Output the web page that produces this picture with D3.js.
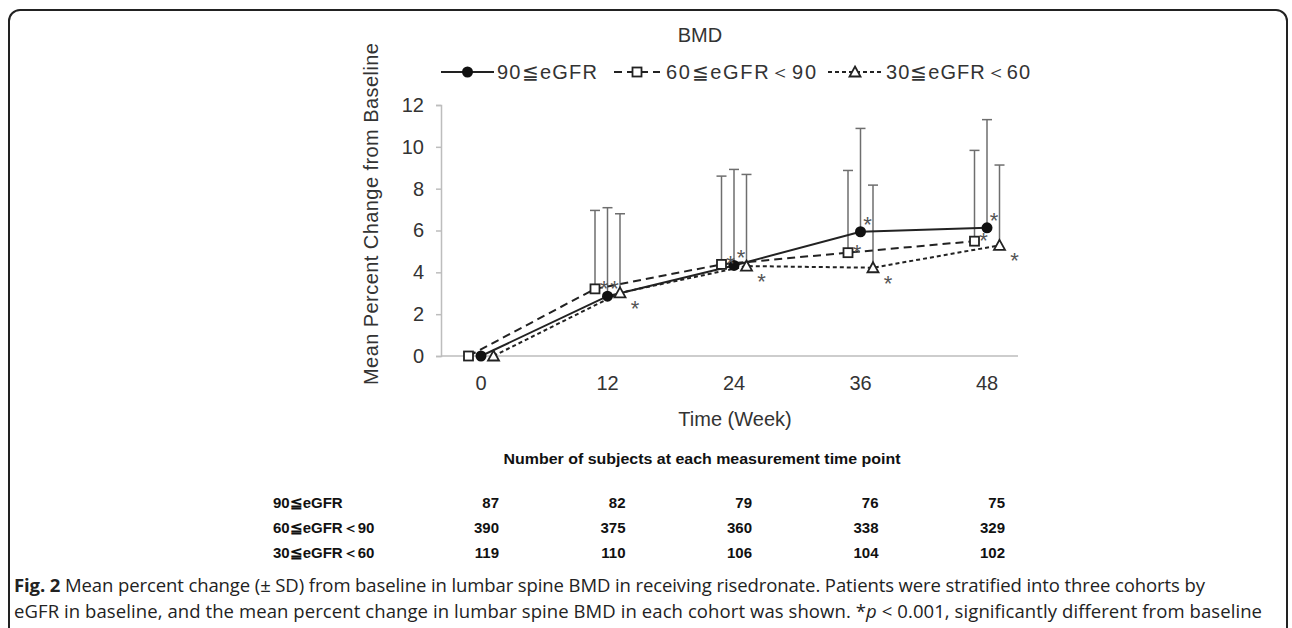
<!DOCTYPE html>
<html>
<head>
<meta charset="utf-8">
<script src="https://cdn.jsdelivr.net/npm/d3@7"></script>
<style>
  body { margin: 0; background: #fff; }
  text { font-family: "Liberation Sans", Arial, sans-serif; }
</style>
</head>
<body>
<script>
const width = 1292;
const height = 628;

const weeks = [0, 12, 24, 36, 48];
const groups = ['90≦eGFR', '60≦eGFR＜90', '30≦eGFR＜60'];
const mean90 = [0, 2.86, 4.33, 5.94, 6.13];
const sd90 = [0, 4.23, 4.59, 4.94, 5.17];
const mean60 = [0, 3.21, 4.38, 4.94, 5.49];
const sd60 = [0, 3.75, 4.22, 3.93, 4.34];
const mean30 = [0, 3.02, 4.30, 4.22, 5.29];
const sd30 = [0, 3.78, 4.38, 3.95, 3.84];
const signif = [false, true, true, true, true];
const yTicks = [0, 2, 4, 6, 8, 10, 12];
const count90 = [87, 82, 79, 76, 75];
const count60 = [390, 375, 360, 338, 329];
const count30 = [119, 110, 106, 104, 102];

const series = [
  { name: groups[0], mean: mean90, sd: sd90, n: count90, marker: 'circle', dash: null, star: [7, -13] },
  { name: groups[1], mean: mean60, sd: sd60, n: count60, marker: 'square', dash: '8,5', star: [9, -6] },
  { name: groups[2], mean: mean30, sd: sd30, n: count30, marker: 'triangle', dash: '4,3', star: [15, 10] },
];

const svg = d3.select('body')
  .append('svg')
  .attr('width', width)
  .attr('height', height);

// frame
svg.append('rect')
  .attr('x', 9).attr('y', 10)
  .attr('width', 1278).attr('height', 660)
  .attr('rx', 11)
  .attr('fill', 'none')
  .attr('stroke', '#222')
  .attr('stroke-width', 2);

const x = d3.scaleLinear().domain([0, 48]).range([481, 987]);
const y = d3.scaleLinear().domain([0, 12]).range([356, 105]);
const shift = d3.scalePoint().domain(['square', 'circle', 'triangle']).range([-12.5, 12.5]);

// title
svg.append('text')
  .attr('x', 700).attr('y', 42)
  .attr('text-anchor', 'middle')
  .attr('font-size', 20)
  .attr('fill', '#333')
  .text('BMD');

// y axis
const yAxis = svg.append('g')
  .attr('transform', 'translate(441,0)')
  .call(d3.axisLeft(y).tickValues(yTicks).tickSize(5).tickPadding(12));
yAxis.select('.domain').attr('stroke', '#bdbdbd').attr('stroke-width', 1.5);
yAxis.selectAll('.tick line').attr('stroke', '#bdbdbd').attr('stroke-width', 1.5);
yAxis.selectAll('.tick text')
  .attr('font-size', 20)
  .attr('fill', '#333')
  .attr('font-family', '"Liberation Sans", Arial, sans-serif');

svg.append('text')
  .attr('transform', 'translate(378,214) rotate(-90)')
  .attr('text-anchor', 'middle')
  .attr('font-size', 20)
  .attr('fill', '#333')
  .attr('textLength', 342)
  .attr('lengthAdjust', 'spacing')
  .text('Mean Percent Change from Baseline');

// x axis
svg.append('line')
  .attr('x1', 441).attr('x2', 1018)
  .attr('y1', y(0)).attr('y2', y(0))
  .attr('stroke', '#bdbdbd').attr('stroke-width', 1.5);
svg.selectAll('.xlab')
  .data(weeks)
  .join('text')
    .attr('class', 'xlab')
    .attr('x', d => x(d))
    .attr('y', 390)
    .attr('text-anchor', 'middle')
    .attr('font-size', 20)
    .attr('fill', '#333')
    .text(d => d);
svg.append('text')
  .attr('x', 735).attr('y', 426)
  .attr('text-anchor', 'middle')
  .attr('font-size', 20)
  .attr('fill', '#333')
  .text('Time (Week)');

function drawMarker(g, type, cx, cy) {
  if (type === 'circle') {
    g.append('circle').attr('cx', cx).attr('cy', cy).attr('r', 5.5).attr('fill', '#111');
  } else if (type === 'square') {
    g.append('rect').attr('x', cx - 4.5).attr('y', cy - 4.5).attr('width', 9).attr('height', 9)
      .attr('fill', '#fff').attr('stroke', '#222').attr('stroke-width', 1.8);
  } else {
    g.append('path')
      .attr('d', `M${cx},${cy - 5.5}L${cx + 5.5},${cy + 4.5}L${cx - 5.5},${cy + 4.5}Z`)
      .attr('fill', '#fff').attr('stroke', '#222').attr('stroke-width', 1.8);
  }
}

const plot = svg.append('g');

// error bars (upper SD only)
series.forEach(s => {
  const pts = weeks.map((w, i) => ({ w, m: s.mean[i], sd: s.sd[i] })).filter(d => d.sd > 0);
  const gx = d => x(d.w) + shift(s.marker);
  plot.selectAll(null).data(pts).join('line')
    .attr('x1', gx).attr('x2', gx)
    .attr('y1', d => y(d.m)).attr('y2', d => y(d.m + d.sd))
    .attr('stroke', '#6e6e6e').attr('stroke-width', 1.5);
  plot.selectAll(null).data(pts).join('line')
    .attr('x1', d => gx(d) - 5).attr('x2', d => gx(d) + 5)
    .attr('y1', d => y(d.m + d.sd)).attr('y2', d => y(d.m + d.sd))
    .attr('stroke', '#6e6e6e').attr('stroke-width', 1.5);
});

// lines
series.forEach(s => {
  const line = d3.line()
    .x((d, i) => x(weeks[i]) + shift(s.marker))
    .y(d => y(d));
  plot.append('path')
    .attr('d', line(s.mean))
    .attr('fill', 'none')
    .attr('stroke', '#222')
    .attr('stroke-width', 2)
    .attr('stroke-dasharray', s.dash);
});

// markers and stars
series.forEach(s => {
  s.mean.forEach((m, i) => {
    const cx = x(weeks[i]) + shift(s.marker);
    const cy = y(m);
    drawMarker(plot, s.marker, cx, cy);
    if (signif[i]) {
      plot.append('text')
        .attr('x', cx + s.star[0])
        .attr('y', cy + s.star[1] + 13)
        .attr('text-anchor', 'middle')
        .attr('font-size', 22)
        .attr('fill', '#555')
        .text('*');
    }
  });
});

// legend
const legendItems = [
  { x0: 441, x1: 494, tx: 497, tl: 100 },
  { x0: 614, x1: 660, tx: 666, tl: 150 },
  { x0: 828, x1: 882, tx: 886, tl: 144 },
];
series.forEach((s, i) => {
  const L = legendItems[i];
  const ly = 72;
  svg.append('line')
    .attr('x1', L.x0).attr('x2', L.x1)
    .attr('y1', ly).attr('y2', ly)
    .attr('stroke', '#222').attr('stroke-width', 2)
    .attr('stroke-dasharray', s.dash);
  drawMarker(svg, s.marker, (L.x0 + L.x1) / 2, ly);
  svg.append('text')
    .attr('x', L.tx).attr('y', ly + 7)
    .attr('font-size', 20)
    .attr('fill', '#333')
    .attr('textLength', L.tl)
    .attr('lengthAdjust', 'spacing')
    .text(s.name);
});

// subject count table
svg.append('text')
  .attr('x', 702).attr('y', 464)
  .attr('text-anchor', 'middle')
  .attr('font-size', 14)
  .attr('font-weight', 'bold')
  .attr('fill', '#111')
  .attr('textLength', 397)
  .attr('lengthAdjust', 'spacingAndGlyphs')
  .text('Number of subjects at each measurement time point');

const rowY = [508, 533, 558];
series.forEach((s, i) => {
  svg.append('text')
    .attr('x', 273).attr('y', rowY[i])
    .attr('font-size', 15)
    .attr('font-weight', 'bold')
    .attr('fill', '#111')
    .text(s.name);
  svg.selectAll(null).data(s.n).join('text')
    .attr('x', (d, j) => x(weeks[j]) + 18)
    .attr('y', rowY[i])
    .attr('text-anchor', 'end')
    .attr('font-size', 15)
    .attr('font-weight', 'bold')
    .attr('fill', '#111')
    .text(d => d);
});

// caption
const cap = svg.append('g').attr('font-size', 18.5).attr('fill', '#222');
const c1 = cap.append('text').attr('x', 14).attr('y', 592)
  .attr('textLength', 1191).attr('lengthAdjust', 'spacing')
  .style('font-family', '"Open Sans", sans-serif');
c1.append('tspan').attr('font-weight', 'bold').text('Fig. 2');
c1.append('tspan').text(' Mean percent change (± SD) from baseline in lumbar spine BMD in receiving risedronate. Patients were stratified into three cohorts by');
const c2 = cap.append('text').attr('x', 14).attr('y', 618)
  .attr('textLength', 1248).attr('lengthAdjust', 'spacing')
  .style('font-family', '"Open Sans", sans-serif');
c2.append('tspan').text('eGFR in baseline, and the mean percent change in lumbar spine BMD in each cohort was shown. *');
c2.append('tspan').attr('font-style', 'italic').text('p');
c2.append('tspan').text(' < 0.001, significantly different from baseline');
</script>
</body>
</html>
